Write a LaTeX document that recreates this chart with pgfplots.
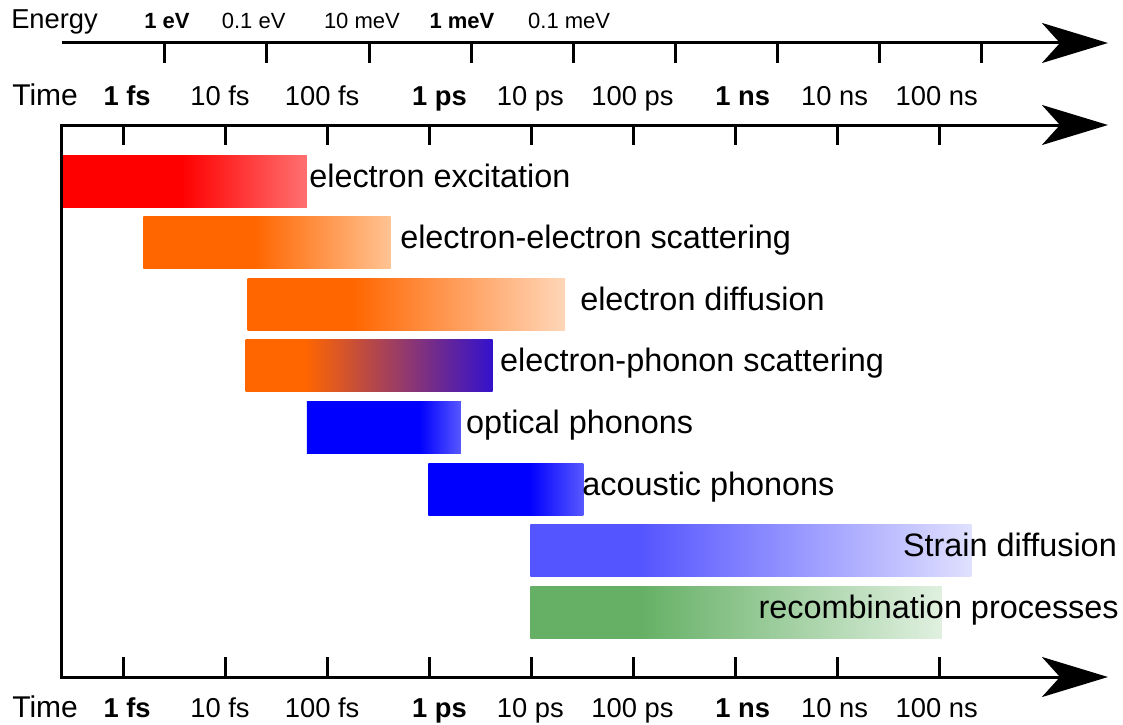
\documentclass[border=0pt]{standalone}
\usepackage{fontspec}
\setmainfont{Liberation Sans}
\usepackage{pgfplots}
\pgfplotsset{compat=1.18}
\usetikzlibrary{arrows.meta}

% bar colours
\definecolor{cred}{HTML}{FF0000}
\definecolor{credl}{HTML}{FF7070}
\definecolor{corange}{HTML}{FF6600}
\definecolor{cpeach}{HTML}{FFC393}
\definecolor{cpeachl}{HTML}{FFD6B8}
\definecolor{cviolet}{HTML}{3311CC}
\definecolor{cblue}{HTML}{0000FF}
\definecolor{cbluel}{HTML}{5858FF}
\definecolor{cblues}{HTML}{5555FF}
\definecolor{cbluew}{HTML}{E0E0FF}
\definecolor{cgreen}{HTML}{66B066}
\definecolor{cgreenw}{HTML}{E0F0E0}

% path bbox maps onto 25bp..75bp of each shading
\pgfdeclarehorizontalshading{shexc}{100bp}{color(0bp)=(cred); color(49.5bp)=(cred); color(75bp)=(credl); color(100bp)=(credl)}
\pgfdeclarehorizontalshading{shee}{100bp}{color(0bp)=(corange); color(47.5bp)=(corange); color(75bp)=(cpeach); color(100bp)=(cpeach)}
\pgfdeclarehorizontalshading{shdif}{100bp}{color(0bp)=(corange); color(41.5bp)=(corange); color(75bp)=(cpeachl); color(100bp)=(cpeachl)}
\pgfdeclarehorizontalshading{sheph}{100bp}{color(0bp)=(corange); color(37bp)=(corange); color(75bp)=(cviolet); color(100bp)=(cviolet)}
\pgfdeclarehorizontalshading{shopt}{100bp}{color(0bp)=(cblue); color(61.5bp)=(cblue); color(75bp)=(cbluel); color(100bp)=(cbluel)}
\pgfdeclarehorizontalshading{shac}{100bp}{color(0bp)=(cblue); color(57.5bp)=(cblue); color(75bp)=(cbluel); color(100bp)=(cbluel)}
\pgfdeclarehorizontalshading{shstr}{100bp}{color(0bp)=(cblues); color(37.5bp)=(cblues); color(75bp)=(cbluew); color(100bp)=(cbluew)}
\pgfdeclarehorizontalshading{shrec}{100bp}{color(0bp)=(cgreen); color(38.5bp)=(cgreen); color(75bp)=(cgreenw); color(100bp)=(cgreenw)}

\tikzset{
  axl/.style={line width=2.25pt, -{Stealth[length=49.5pt,width=30pt,inset=13.5pt]}},
  tck/.style={line width=2.25pt},
  barlab/.style={inner sep=0pt, font=\fontsize{24.3}{28}\selectfont},
  tlab/.style={anchor=base, inner sep=0pt, font=\fontsize{20.5}{24}\selectfont},
  elab/.style={anchor=base, inner sep=0pt, font=\fontsize{16.5}{20}\selectfont},
}

\begin{document}
\begin{tikzpicture}
\begin{axis}[
  scale only axis, width=842.25pt, height=543pt,
  xmin=-1.2047, xmax=9.7943, ymin=0, ymax=724, y dir=reverse,
  hide axis, clip=false,
]
\path (rel axis cs:0,0) rectangle (rel axis cs:1,1);

% x: log10(time / 1 fs); y: rows from the top
\addplot[draw=none, shade, shading=shexc] coordinates {(-0.60,155) (1.80,155) (1.80,207) (-0.60,207)} --cycle;
\addplot[draw=none, shade, shading=shee] coordinates {(0.20,216.6) (2.62,216.6) (2.62,268.6) (0.20,268.6)} --cycle;
\addplot[draw=none, shade, shading=shdif] coordinates {(1.22,278.2) (4.33,278.2) (4.33,330.2) (1.22,330.2)} --cycle;
\addplot[draw=none, shade, shading=sheph] coordinates {(1.20,339.8) (3.62,339.8) (3.62,391.8) (1.20,391.8)} --cycle;
\addplot[draw=none, shade, shading=shopt] coordinates {(1.80,401.4) (3.31,401.4) (3.31,453.4) (1.80,453.4)} --cycle;
\addplot[draw=none, shade, shading=shac] coordinates {(2.99,463) (4.51,463) (4.51,515) (2.99,515)} --cycle;
\addplot[draw=none, shade, shading=shstr] coordinates {(3.99,524.6) (8.31,524.6) (8.31,576.6) (3.99,576.6)} --cycle;
\addplot[draw=none, shade, shading=shrec] coordinates {(3.99,586.2) (8.02,586.2) (8.02,638.2) (3.99,638.2)} --cycle;

\node[barlab, anchor=base west] at (axis cs:1.822,187) {electron excitation};
\node[barlab, anchor=base west] at (axis cs:2.713,248.6) {electron-electron scattering};
\node[barlab, anchor=base west] at (axis cs:4.476,310.2) {electron diffusion};
\node[barlab, anchor=base west] at (axis cs:3.692,371.8) {electron-phonon scattering};
\node[barlab, anchor=base west] at (axis cs:3.359,433.4) {optical phonons};
\node[barlab, anchor=base west] at (axis cs:4.496,495) {acoustic phonons};
\node[barlab, anchor=base east] at (axis cs:9.736,556.6) {Strain diffusion};
\node[barlab, anchor=base east] at (axis cs:9.755,618.2) {recombination processes};

% energy scale
\draw[axl] (axis cs:-0.6,43) -- (axis cs:9.647,43);
\draw[tck] (axis cs:0.41,43) -- (axis cs:0.41,63) (axis cs:1.41,43) -- (axis cs:1.41,63)
  (axis cs:2.41,43) -- (axis cs:2.41,63) (axis cs:3.41,43) -- (axis cs:3.41,63)
  (axis cs:4.41,43) -- (axis cs:4.41,63) (axis cs:5.41,43) -- (axis cs:5.41,63)
  (axis cs:6.41,43) -- (axis cs:6.41,63) (axis cs:7.41,43) -- (axis cs:7.41,63)
  (axis cs:8.41,43) -- (axis cs:8.41,63);
\node[anchor=base west, inner sep=0pt, font=\fontsize{20.5}{24}\selectfont] at (axis cs:-1.097,29) {Energy};
\node[elab] at (axis cs:0.43,29) {\bfseries 1 eV};
\node[elab] at (axis cs:1.28,29) {0.1 eV};
\node[elab] at (axis cs:2.34,29) {10 meV};
\node[elab] at (axis cs:3.32,29) {\bfseries 1 meV};
\node[elab] at (axis cs:4.37,29) {0.1 meV};

% time scales, top and bottom
\draw[axl] (axis cs:-0.6,677) -- (axis cs:-0.6,125) -- (axis cs:9.647,125);
\draw[axl, line cap=rect] (axis cs:-0.6,677) -- (axis cs:9.647,677);
\draw[tck] (axis cs:0,125) -- (axis cs:0,145) (axis cs:1,125) -- (axis cs:1,145)
  (axis cs:2,125) -- (axis cs:2,145) (axis cs:3,125) -- (axis cs:3,145)
  (axis cs:4,125) -- (axis cs:4,145) (axis cs:5,125) -- (axis cs:5,145)
  (axis cs:6,125) -- (axis cs:6,145) (axis cs:7,125) -- (axis cs:7,145)
  (axis cs:8,125) -- (axis cs:8,145);
\draw[tck] (axis cs:0,677) -- (axis cs:0,657) (axis cs:1,677) -- (axis cs:1,657)
  (axis cs:2,677) -- (axis cs:2,657) (axis cs:3,677) -- (axis cs:3,657)
  (axis cs:4,677) -- (axis cs:4,657) (axis cs:5,677) -- (axis cs:5,657)
  (axis cs:6,677) -- (axis cs:6,657) (axis cs:7,677) -- (axis cs:7,657)
  (axis cs:8,677) -- (axis cs:8,657);

\node[anchor=base west, inner sep=0pt, font=\fontsize{22.5}{26}\selectfont] at (axis cs:-1.087,105) {Time};
\node[anchor=base west, inner sep=0pt, font=\fontsize{22.5}{26}\selectfont] at (axis cs:-1.087,717) {Time};
\node[tlab] at (axis cs:0.04,105) {\bfseries 1 fs};
\node[tlab] at (axis cs:0.95,105) {10 fs};
\node[tlab] at (axis cs:1.95,105) {100 fs};
\node[tlab] at (axis cs:3.10,105) {\bfseries 1 ps};
\node[tlab] at (axis cs:3.99,105) {10 ps};
\node[tlab] at (axis cs:4.99,105) {100 ps};
\node[tlab] at (axis cs:6.07,105) {\bfseries 1 ns};
\node[tlab] at (axis cs:6.97,105) {10 ns};
\node[tlab] at (axis cs:7.97,105) {100 ns};
\node[tlab] at (axis cs:0.04,717) {\bfseries 1 fs};
\node[tlab] at (axis cs:0.95,717) {10 fs};
\node[tlab] at (axis cs:1.95,717) {100 fs};
\node[tlab] at (axis cs:3.10,717) {\bfseries 1 ps};
\node[tlab] at (axis cs:3.99,717) {10 ps};
\node[tlab] at (axis cs:4.99,717) {100 ps};
\node[tlab] at (axis cs:6.07,717) {\bfseries 1 ns};
\node[tlab] at (axis cs:6.97,717) {10 ns};
\node[tlab] at (axis cs:7.97,717) {100 ns};
\end{axis}
\end{tikzpicture}
\end{document}
